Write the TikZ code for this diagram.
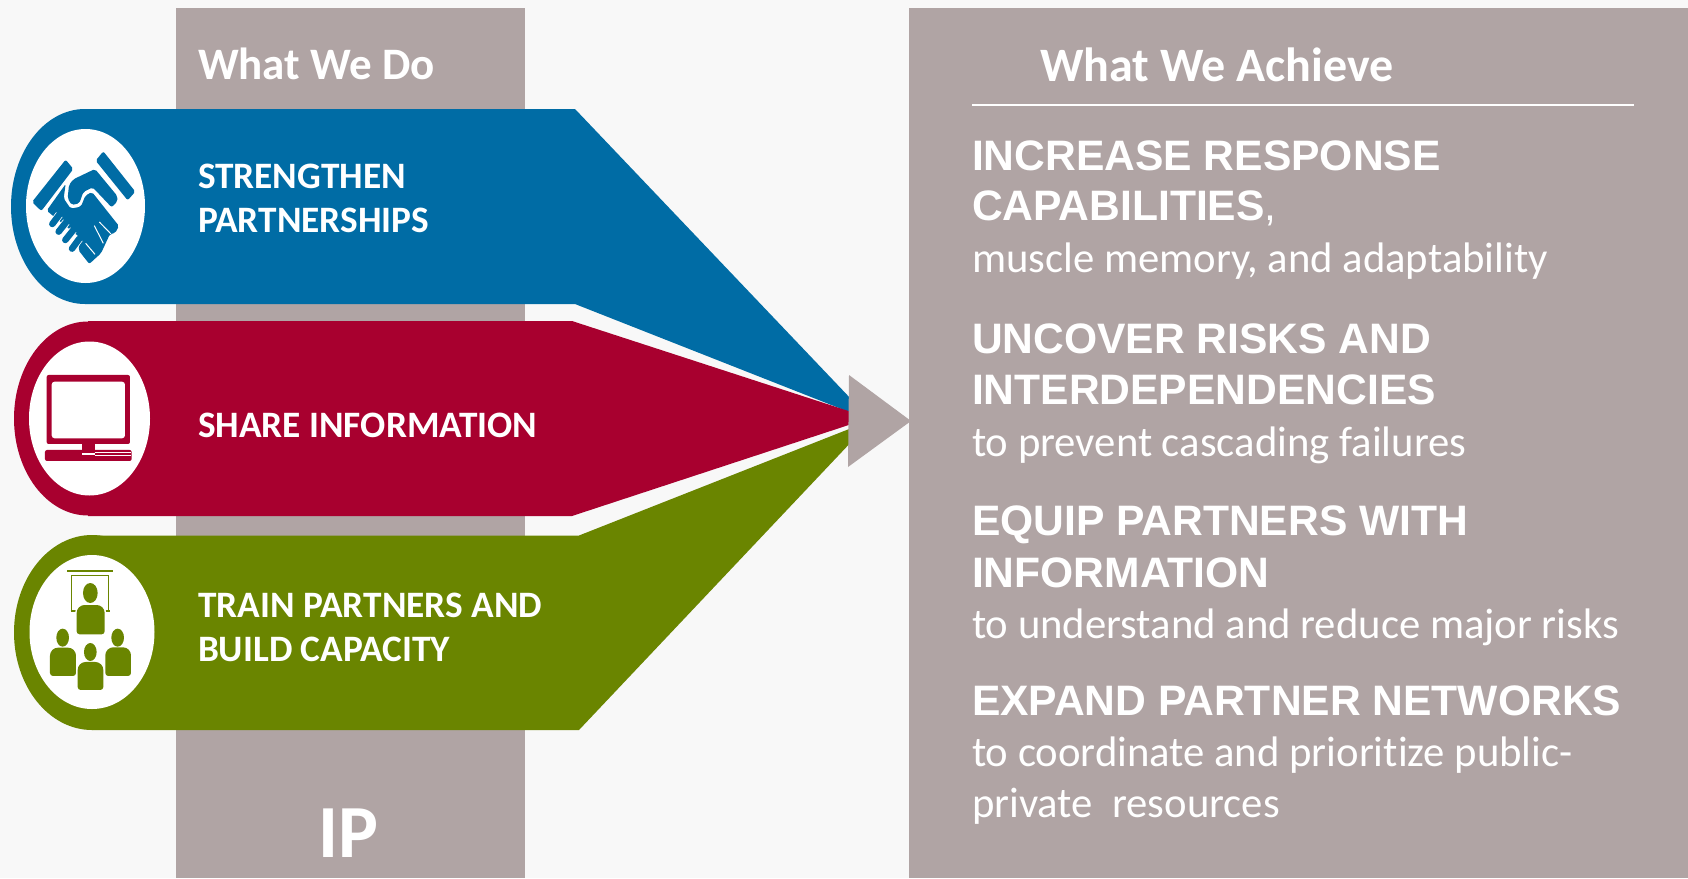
\documentclass[tikz,border=0pt]{standalone}
\usepackage{fontspec}
\usepackage{xcolor}
\usepackage{tikz}
\usetikzlibrary{shapes.geometric}
\usetikzlibrary{positioning}
\setmainfont[Ligatures=NoCommon]{Carlito}
\newfontfamily\headfont{Liberation Sans}
\definecolor{pagegray}{HTML}{F8F8F8}
\definecolor{panelgray}{HTML}{B0A4A4}
\definecolor{teamblue}{HTML}{006CA5}
\definecolor{teamred}{HTML}{A8002F}
\definecolor{teamgreen}{HTML}{6A8500}

\begin{document}
\begin{tikzpicture}[x=1pt,y=-1pt,inner sep=0pt,outer sep=0pt]
	\tikzstyle{every node}=[text=white, anchor=base west]
	\tikzstyle{title}=[font=\fontsize{45}{45}\selectfont\bfseries]
	\tikzstyle{action}=[font=\fontsize{37.3}{37.3}\selectfont\bfseries]
	\tikzstyle{claim}=[font=\headfont\fontsize{42.6}{42.6}\selectfont\bfseries]
	\tikzstyle{detail}=[font=\fontsize{42.7}{42.7}\selectfont]
	\tikzstyle{ring}=[ellipse, anchor=center, minimum width=148pt, minimum height=194pt]
	\tikzstyle{disc}=[ellipse, anchor=center, fill=white, minimum height=154pt]

	\fill[pagegray] (0,0) rectangle (1688,878);
	\useasboundingbox (0,0) rectangle (1688,878);
	\fill[panelgray] (176,8) rectangle (525,878);
	\fill[panelgray] (909,8) rectangle (1688,878);

	% three arms
	\node[ring, fill=teamblue, minimum height=195pt] (blue ring) at (85,206.5) {};
	\fill[teamblue] (85,109) -- (575,109) -- (872,421) -- (575,304) -- (85,304) -- cycle;
	\node[ring, fill=teamred] (red ring) at (88,418.5) {};
	\fill[teamred] (88,321) -- (572,321) -- (870,418) -- (572,516) -- (88,516) -- cycle;
	\node[ring, fill=teamgreen, minimum width=156pt, minimum height=195pt] (green ring) at (92,632.5) {};
	\fill[teamgreen] (92,535.5) -- (579,535.5) -- (872,420) -- (579,730) -- (92,730) -- cycle;
	\fill[panelgray] (849,375) -- (911,421) -- (848,467) -- cycle;

	\node[disc, minimum width=119pt] (blue disc) at (85.5,206) {};
	\node[disc, minimum width=121pt] (red disc) at (89.5,418.5) {};
	\node[disc, minimum width=125pt] (green disc) at (92,632) {};

	% handshake
	\begin{scope}[shift={(0,90)},x=0.3333pt,y=-0.3333pt]
		\fill[teamblue, rounded corners=2pt] (197,209) -- (220,237) -- (124,363) -- (96,336) -- cycle;
		\fill[teamblue, rounded corners=2pt] (310,184) -- (406,305) -- (383,331) -- (287,212) -- cycle;
		\fill[teamblue, rounded corners=2pt] (220,268) -- (285,237) -- (352,318) -- (352,335) -- (335,352) -- (278,292) -- (250,306) -- (238,340) -- (215,345) -- (203,325) -- (207,285) -- cycle;
		\fill[teamblue, rounded corners=2pt] (197,282) -- (191,325) -- (212,356) -- (243,350) -- (256,317) -- (276,306) -- (357,408) -- (345,430) -- (330,432) -- (303,490) -- (283,508) -- (268,522) -- (235,480) -- (243,445) -- (140,362) -- cycle;
		\draw[white, line width=1pt] (298,396) -- (333,432);
		\draw[white, line width=1pt] (283,407) -- (310,460);
		\draw[white, line width=1pt] (257,460) -- (285,493);
		\foreach \xa/\ya/\xb/\yb in {178/374/157/402, 199/396/176/425, 220/420/196/450, 238/446/216/476}
			\draw[teamblue, line width=6.5pt, line cap=round, preaction={draw=white, line width=8pt}] (\xa,\ya) -- (\xb,\yb);
	\end{scope}

	% monitor
	\begin{scope}[shift={(0,310)},x=0.3333pt,y=-0.3333pt]
		\fill[teamred, rounded corners=2pt] (140,195) rectangle (390,402);
		\fill[white, rounded corners=3pt] (155,215) rectangle (375,385);
		\fill[teamred] (247,402) rectangle (284,422);
		\fill[teamred, rounded corners=2pt] (135,420) rectangle (395,453);
		\fill[white] (247,428) rectangle (284,436);
		\draw[white, line width=0.5pt] (284,427) -- (392,427);
		\draw[white, line width=0.5pt] (284,436) -- (392,436);
	\end{scope}

	% trainer and class
	\begin{scope}[shift={(0,525)},x=0.3333pt,y=-0.3333pt]
		\fill[teamgreen] (202,135) rectangle (338,141);
		\draw[teamgreen, line width=1.5pt] (214,258) -- (214,152) -- (326,152) -- (326,258);
		\draw[teamgreen, line width=1.5pt] (212,258) -- (329,258);
		\foreach \xa/\ya/\xb/\yb/\hx/\hy/\ra/\rb in {230/240/314/328/271/204/22/30, 150/368/228/453/188/338/19/27, 316/367/393/453/353/338/19/27, 233/411/310/495/271/381/19/27}
		{
			\fill[white] (\hx,\hy) ellipse ({\ra+4} and {\rb+4});
			\fill[white, rounded corners=8pt] (\xa-4,\yb) rectangle (\xb+4,\ya-4);
			\fill[teamgreen] (\hx,\hy) ellipse ({\ra} and {\rb});
			\fill[teamgreen] (\xa,\yb) [rounded corners=3pt] -- (\xb,\yb) [rounded corners=8pt] -- (\xb,\ya) -- (\xa,\ya) [rounded corners=3pt] -- cycle;
		}
	\end{scope}

	\node[title] (do title) at (198,79) {What We Do};
	\node[font=\fontsize{48}{48}\selectfont\bfseries] (achieve title) at (1040,81) {What We Achieve};
	\node[font=\fontsize{75}{75}\selectfont\bfseries] (ip label) at (318,857) {IP};
	\coordinate (rule start) at (972,105);
	\coordinate (rule end) at (1634,105);
	\draw[white, line width=1.3pt] (rule start) -- (rule end);

	\node[action] (partner one) at (198,188) {STRENGTHEN};
	\node[action] (partner two) at (198,232) {PARTNERSHIPS};
	\node[action] (share) at (198,437) {SHARE INFORMATION};
	\node[action] (train one) at (198,617) {TRAIN PARTNERS AND};
	\node[action] (train two) at (198,661) {BUILD CAPACITY};

	\node[claim] (increase one) at (972,170) {INCREASE RESPONSE};
	\node[claim] (increase two) at (972,220.5) {CAPABILITIES\textmd{,}};
	\node[detail] (increase note) at (972,272) {muscle memory, and adaptability};
	\node[claim] (uncover one) at (972,353) {UNCOVER RISKS AND};
	\node[claim] (uncover two) at (972,404) {INTERDEPENDENCIES};
	\node[detail] (uncover note) at (972,456) {to prevent cascading failures};
	\node[claim] (equip one) at (972,535) {EQUIP PARTNERS WITH};
	\node[claim] (equip two) at (972,587) {INFORMATION};
	\node[detail] (equip note) at (972,638) {to understand and reduce major risks};
	\node[claim] (expand one) at (972,715) {EXPAND PARTNER NETWORKS};
	\node[detail] (expand note) at (972,766) {to coordinate and prioritize public-};
	\node[detail] (expand more) at (972,817) {private\ \ resources};
\end{tikzpicture}
\end{document}
